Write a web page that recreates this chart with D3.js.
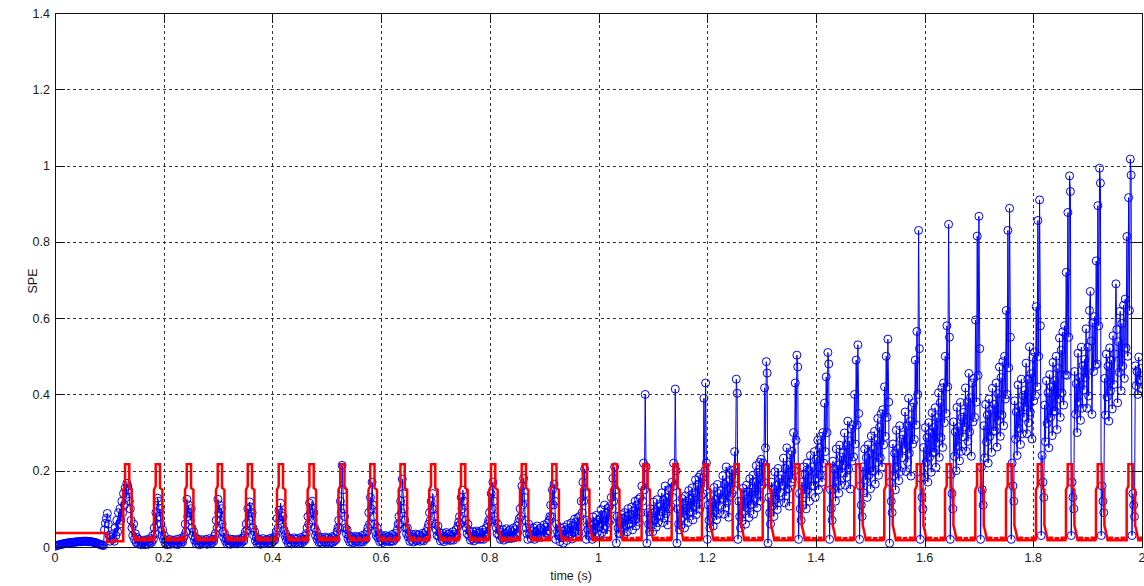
<!DOCTYPE html>
<html>
<head>
<meta charset="utf-8">
<script src="https://cdn.jsdelivr.net/npm/d3@7"></script>
<style>
	body { margin: 0; background: #fff; }
	text { font-family: "Liberation Sans", Arial, sans-serif; fill: #1a1a1a; }
</style>
</head>
<body>
<script>
const width = 1144
const height = 586

// axis ticks
const xTicks = [0, 0.2, 0.4, 0.6, 0.8, 1, 1.2, 1.4, 1.6, 1.8, 2]
const xTickLabels = ['0', '0.2', '0.4', '0.6', '0.8', '1', '1.2', '1.4', '1.6', '1.8', '2']
const yTicks = [0, 0.2, 0.4, 0.6, 0.8, 1, 1.2, 1.4]
const yTickLabels = ['0', '0.2', '0.4', '0.6', '0.8', '1', '1.2', '1.4']

// centre time (s) of every red threshold pulse
const pulseTimes = [0.133, 0.1895, 0.2466, 0.3036, 0.3588, 0.4158, 0.4723, 0.529, 0.5842, 0.6398,
	0.696, 0.7512, 0.8064, 0.8629, 0.919, 0.9752, 1.0304, 1.0867, 1.142, 1.1978,
	1.2543, 1.3095, 1.3658, 1.4228, 1.478, 1.5332, 1.5897, 1.6449, 1.7007, 1.7571,
	1.8123, 1.8675, 1.9227, 1.9792]

// red threshold: start level, one pulse (ms from centre) and the ripple between pulses
const redStartT = [0, 0.096, 0.096, 0.106, 0.106, 0.113, 0.113, 0.1256]
const redStartV = [0.037, 0.037, 0.014, 0.014, 0.018, 0.018, 0.015, 0.015]
const pulseMs = [-7.4, -7.4, -4.2, -4.2, 3.7, 3.7, 8.1, 8.1, 11, 14]
const pulseV = [0.018, 0.15, 0.16, 0.217, 0.217, 0.155, 0.15, 0.057, 0.04, 0.018]
const rippleMs = [18, 18, 22, 22, 29, 29, 33, 33, 40, 40, 44, 44, 48.5]
const rippleV = [0.018, 0.024, 0.024, 0.018, 0.018, 0.023, 0.023, 0.018, 0.018, 0.024, 0.024, 0.018, 0.018]

// SPE samples before the first pulse, 1.75 ms apart from t = 0
const blueStart = [0.002, 0.003, 0.004, 0.005, 0.005, 0.006, 0.007, 0.007, 0.008, 0.008,
	0.009, 0.009, 0.010, 0.010, 0.011, 0.011, 0.011, 0.012, 0.012, 0.012,
	0.013, 0.013, 0.013, 0.013, 0.014, 0.014, 0.014, 0.014, 0.014, 0.015,
	0.015, 0.015, 0.015, 0.015, 0.015, 0.014, 0.014, 0.014, 0.014, 0.013,
	0.013, 0.012, 0.012, 0.011, 0.010, 0.009, 0.008, 0.007, 0.006, 0.005,
	0.005, 0.004, 0.045, 0.062, 0.075, 0.088, 0.06, 0.03, 0.015, 0.025]

// sample positions (ms from pulse centre) used in every cycle row below
const cycleMs = [-27.1, -25.55, -24, -22.45, -20.9, -19.35, -17.8, -16.25, -14.7, -13.15, -11.6, -10.05, -8.5,
	-6.95, -5.4, -3.85, -2.3, -0.75, 0.8, 2.35, 3.9, 5.45, 7,
	8.55, 10.1, 11.65, 13.2, 14.75, 16.3, 17.85, 19.4, 20.95, 22.5, 24.05, 25.6, 27.15]

// SPE samples, one row per pulse (13 before, 10 around, 13 after the pulse)
const blueCycles = [
	[0.02, 0.035, 0.015, 0.05, 0.03, 0.07, 0.04, 0.09, 0.06, 0.10, 0.07, 0.12, 0.09,
		0.14, 0.11, 0.155, 0.13, 0.167, 0.16, 0.15, 0.12, 0.10, 0.07,
		0.05, 0.03, 0.06, 0.02, 0.035, 0.012, 0.025, 0.008, 0.02, 0.01, 0.015, 0.006, 0.012],
	[0.01, 0.018, 0.006, 0.014, 0.009, 0.02, 0.007, 0.015, 0.01, 0.022, 0.012, 0.03, 0.02,
		0.05, 0.035, 0.09, 0.06, 0.128, 0.12, 0.08, 0.10, 0.06, 0.03,
		0.045, 0.02, 0.03, 0.01, 0.018, 0.006, 0.014, 0.009, 0.02, 0.007, 0.015, 0.01, 0.018],
	[0.008, 0.016, 0.01, 0.02, 0.006, 0.015, 0.012, 0.022, 0.009, 0.018, 0.014, 0.025, 0.03,
		0.06, 0.04, 0.125, 0.08, 0.11, 0.09, 0.07, 0.10, 0.05, 0.03,
		0.04, 0.018, 0.025, 0.008, 0.016, 0.01, 0.02, 0.006, 0.014, 0.011, 0.019, 0.008, 0.015],
	[0.01, 0.02, 0.007, 0.016, 0.012, 0.022, 0.008, 0.017, 0.011, 0.02, 0.015, 0.028, 0.035,
		0.07, 0.05, 0.125, 0.09, 0.11, 0.07, 0.10, 0.06, 0.04, 0.025,
		0.035, 0.015, 0.022, 0.008, 0.017, 0.01, 0.021, 0.007, 0.015, 0.012, 0.02, 0.009, 0.016],
	[0.011, 0.019, 0.008, 0.015, 0.012, 0.021, 0.009, 0.018, 0.013, 0.024, 0.016, 0.03, 0.04,
		0.06, 0.045, 0.10, 0.07, 0.118, 0.105, 0.08, 0.09, 0.05, 0.03,
		0.04, 0.016, 0.025, 0.009, 0.018, 0.011, 0.02, 0.007, 0.016, 0.012, 0.022, 0.009, 0.017],
	[0.012, 0.02, 0.009, 0.017, 0.011, 0.023, 0.01, 0.019, 0.014, 0.025, 0.018, 0.03, 0.04,
		0.075, 0.05, 0.096, 0.07, 0.115, 0.09, 0.06, 0.08, 0.045, 0.03,
		0.035, 0.018, 0.026, 0.01, 0.02, 0.012, 0.022, 0.008, 0.018, 0.013, 0.024, 0.01, 0.02],
	[0.013, 0.022, 0.01, 0.018, 0.012, 0.025, 0.011, 0.02, 0.015, 0.028, 0.02, 0.035, 0.05,
		0.08, 0.06, 0.115, 0.09, 0.10, 0.12, 0.07, 0.09, 0.05, 0.03,
		0.04, 0.02, 0.028, 0.012, 0.022, 0.013, 0.025, 0.01, 0.02, 0.014, 0.026, 0.012, 0.022],
	[0.014, 0.024, 0.011, 0.02, 0.013, 0.027, 0.012, 0.022, 0.016, 0.03, 0.02, 0.04, 0.05,
		0.07, 0.05, 0.12, 0.09, 0.214, 0.15, 0.10, 0.08, 0.05, 0.035,
		0.045, 0.022, 0.03, 0.013, 0.024, 0.015, 0.027, 0.011, 0.022, 0.016, 0.028, 0.013, 0.024],
	[0.016, 0.026, 0.012, 0.022, 0.015, 0.03, 0.013, 0.024, 0.018, 0.033, 0.022, 0.04, 0.05,
		0.09, 0.06, 0.13, 0.10, 0.17, 0.11, 0.08, 0.06, 0.04, 0.03,
		0.05, 0.024, 0.032, 0.014, 0.026, 0.016, 0.03, 0.012, 0.024, 0.018, 0.03, 0.015, 0.026],
	[0.018, 0.028, 0.014, 0.024, 0.016, 0.033, 0.015, 0.027, 0.02, 0.036, 0.025, 0.045, 0.06,
		0.08, 0.06, 0.12, 0.09, 0.178, 0.14, 0.10, 0.07, 0.05, 0.035,
		0.05, 0.026, 0.035, 0.015, 0.028, 0.018, 0.033, 0.013, 0.026, 0.02, 0.034, 0.016, 0.03],
	[0.02, 0.032, 0.015, 0.027, 0.018, 0.036, 0.016, 0.03, 0.022, 0.04, 0.028, 0.05, 0.06,
		0.09, 0.07, 0.12, 0.10, 0.14, 0.10, 0.08, 0.06, 0.045, 0.03,
		0.055, 0.028, 0.038, 0.016, 0.03, 0.02, 0.036, 0.014, 0.028, 0.022, 0.038, 0.018, 0.033],
	[0.022, 0.035, 0.017, 0.03, 0.02, 0.04, 0.018, 0.033, 0.025, 0.045, 0.03, 0.055, 0.065,
		0.08, 0.06, 0.13, 0.10, 0.149, 0.12, 0.09, 0.07, 0.05, 0.035,
		0.06, 0.03, 0.042, 0.018, 0.034, 0.022, 0.04, 0.016, 0.032, 0.024, 0.042, 0.02, 0.036],
	[0.025, 0.04, 0.02, 0.035, 0.022, 0.045, 0.02, 0.038, 0.028, 0.05, 0.034, 0.06, 0.07,
		0.09, 0.07, 0.14, 0.10, 0.17, 0.12, 0.08, 0.07, 0.05, 0.035,
		0.06, 0.032, 0.046, 0.02, 0.038, 0.024, 0.045, 0.018, 0.036, 0.026, 0.048, 0.022, 0.04],
	[0.028, 0.045, 0.022, 0.04, 0.025, 0.05, 0.024, 0.045, 0.032, 0.055, 0.038, 0.065, 0.075,
		0.10, 0.08, 0.16, 0.11, 0.18, 0.13, 0.07, 0.05, 0.035, 0.02,
		0.06, 0.035, 0.05, 0.022, 0.042, 0.028, 0.05, 0.02, 0.04, 0.03, 0.055, 0.025, 0.045],
	[0.032, 0.05, 0.025, 0.045, 0.03, 0.058, 0.028, 0.052, 0.036, 0.062, 0.042, 0.07, 0.08,
		0.11, 0.08, 0.15, 0.11, 0.165, 0.12, 0.02, 0.06, 0.04, 0.03,
		0.035, 0.014, 0.049, 0.024, 0.042, 0.01, 0.052, 0.028, 0.045, 0.017, 0.059, 0.031, 0.049],
	[0.031, 0.063, 0.021, 0.056, 0.038, 0.073, 0.028, 0.066, 0.042, 0.077, 0.035, 0.08, 0.052,
		0.12, 0.09, 0.17, 0.12, 0.205, 0.14, 0.02, 0.07, 0.045, 0.03,
		0.065, 0.034, 0.056, 0.02, 0.079, 0.043, 0.061, 0.029, 0.083, 0.038, 0.07, 0.052, 0.074],
	[0.061, 0.097, 0.038, 0.083, 0.047, 0.11, 0.056, 0.088, 0.034, 0.101, 0.065, 0.106, 0.07,
		0.13, 0.10, 0.18, 0.12, 0.21, 0.15, 0.01, 0.08, 0.05, 0.035,
		0.065, 0.035, 0.085, 0.05, 0.075, 0.03, 0.09, 0.055, 0.08, 0.04, 0.10, 0.06, 0.085],
	[0.06, 0.105, 0.045, 0.095, 0.07, 0.12, 0.055, 0.11, 0.075, 0.125, 0.065, 0.13, 0.09,
		0.16, 0.12, 0.22, 0.15, 0.40, 0.21, 0.01, 0.09, 0.06, 0.04,
		0.10, 0.058, 0.088, 0.04, 0.118, 0.07, 0.094, 0.052, 0.124, 0.064, 0.106, 0.082, 0.112],
	[0.094, 0.142, 0.064, 0.124, 0.076, 0.16, 0.088, 0.13, 0.058, 0.148, 0.10, 0.154, 0.106,
		0.17, 0.13, 0.22, 0.16, 0.414, 0.20, 0.01, 0.10, 0.06, 0.045,
		0.099, 0.057, 0.127, 0.078, 0.113, 0.05, 0.134, 0.085, 0.12, 0.064, 0.148, 0.092, 0.127],
	[0.092, 0.155, 0.071, 0.141, 0.106, 0.176, 0.085, 0.162, 0.113, 0.183, 0.099, 0.19, 0.134,
		0.18, 0.14, 0.39, 0.20, 0.43, 0.22, 0.02, 0.11, 0.07, 0.05,
		0.133, 0.078, 0.117, 0.055, 0.156, 0.094, 0.125, 0.071, 0.164, 0.086, 0.14, 0.109, 0.148],
	[0.125, 0.187, 0.086, 0.164, 0.102, 0.21, 0.117, 0.171, 0.078, 0.195, 0.133, 0.202, 0.14,
		0.20, 0.15, 0.25, 0.18, 0.44, 0.403, 0.02, 0.12, 0.08, 0.05,
		0.12, 0.069, 0.154, 0.094, 0.137, 0.06, 0.162, 0.103, 0.145, 0.077, 0.179, 0.111, 0.154],
	[0.111, 0.188, 0.086, 0.171, 0.128, 0.213, 0.103, 0.196, 0.137, 0.222, 0.12, 0.23, 0.162,
		0.22, 0.17, 0.417, 0.26, 0.486, 0.456, 0.01, 0.13, 0.09, 0.06,
		0.17, 0.107, 0.152, 0.08, 0.197, 0.125, 0.161, 0.098, 0.206, 0.116, 0.179, 0.143, 0.188],
	[0.161, 0.233, 0.116, 0.206, 0.134, 0.26, 0.152, 0.215, 0.107, 0.242, 0.17, 0.251, 0.179,
		0.30, 0.20, 0.43, 0.28, 0.503, 0.472, 0.02, 0.14, 0.10, 0.07,
		0.17, 0.11, 0.21, 0.14, 0.19, 0.10, 0.22, 0.15, 0.20, 0.12, 0.24, 0.16, 0.21],
	[0.16, 0.25, 0.13, 0.23, 0.18, 0.28, 0.15, 0.26, 0.19, 0.29, 0.17, 0.30, 0.22,
		0.377, 0.25, 0.446, 0.30, 0.51, 0.48, 0.02, 0.15, 0.10, 0.07,
		0.225, 0.152, 0.204, 0.12, 0.257, 0.173, 0.215, 0.141, 0.267, 0.162, 0.236, 0.194, 0.246],
	[0.215, 0.299, 0.162, 0.267, 0.183, 0.33, 0.204, 0.278, 0.152, 0.309, 0.225, 0.32, 0.236,
		0.40, 0.27, 0.49, 0.32, 0.53, 0.35, 0.02, 0.16, 0.11, 0.08,
		0.21, 0.142, 0.257, 0.176, 0.234, 0.13, 0.268, 0.188, 0.245, 0.153, 0.291, 0.199, 0.257],
	[0.199, 0.303, 0.165, 0.28, 0.222, 0.337, 0.188, 0.314, 0.234, 0.349, 0.21, 0.36, 0.268,
		0.42, 0.29, 0.50, 0.34, 0.545, 0.38, 0.01, 0.17, 0.12, 0.09,
		0.27, 0.186, 0.246, 0.15, 0.306, 0.21, 0.258, 0.174, 0.318, 0.198, 0.282, 0.234, 0.294],
	[0.258, 0.354, 0.198, 0.318, 0.222, 0.39, 0.246, 0.33, 0.186, 0.366, 0.27, 0.378, 0.282,
		0.49, 0.32, 0.565, 0.40, 0.83, 0.52, 0.02, 0.18, 0.13, 0.10,
		0.261, 0.183, 0.313, 0.222, 0.287, 0.17, 0.326, 0.235, 0.30, 0.196, 0.352, 0.248, 0.313],
	[0.248, 0.365, 0.209, 0.339, 0.274, 0.404, 0.235, 0.378, 0.287, 0.417, 0.261, 0.43, 0.326,
		0.50, 0.35, 0.58, 0.42, 0.846, 0.55, 0.02, 0.19, 0.14, 0.10,
		0.328, 0.238, 0.302, 0.20, 0.366, 0.264, 0.315, 0.226, 0.379, 0.251, 0.34, 0.289, 0.353],
	[0.315, 0.417, 0.251, 0.379, 0.277, 0.455, 0.302, 0.391, 0.238, 0.43, 0.328, 0.442, 0.34,
		0.595, 0.38, 0.815, 0.45, 0.867, 0.52, 0.02, 0.21, 0.15, 0.11,
		0.318, 0.234, 0.374, 0.276, 0.346, 0.22, 0.388, 0.29, 0.36, 0.248, 0.416, 0.304, 0.374],
	[0.304, 0.43, 0.262, 0.402, 0.332, 0.472, 0.29, 0.444, 0.346, 0.486, 0.318, 0.50, 0.388,
		0.62, 0.40, 0.83, 0.47, 0.888, 0.55, 0.02, 0.22, 0.16, 0.12,
		0.383, 0.283, 0.354, 0.24, 0.425, 0.311, 0.368, 0.269, 0.44, 0.297, 0.397, 0.34, 0.411],
	[0.368, 0.482, 0.297, 0.44, 0.326, 0.525, 0.354, 0.454, 0.283, 0.497, 0.383, 0.511, 0.397,
		0.63, 0.42, 0.856, 0.50, 0.91, 0.58, 0.03, 0.24, 0.17, 0.13,
		0.372, 0.276, 0.436, 0.324, 0.404, 0.26, 0.452, 0.34, 0.42, 0.292, 0.484, 0.356, 0.436],
	[0.356, 0.50, 0.308, 0.468, 0.388, 0.548, 0.34, 0.516, 0.404, 0.564, 0.372, 0.58, 0.452,
		0.72, 0.45, 0.877, 0.55, 0.973, 0.932, 0.03, 0.17, 0.13, 0.10,
		0.46, 0.348, 0.428, 0.30, 0.508, 0.38, 0.444, 0.332, 0.524, 0.364, 0.476, 0.412, 0.492],
	[0.444, 0.572, 0.364, 0.524, 0.396, 0.62, 0.67, 0.54, 0.348, 0.588, 0.46, 0.604, 0.476,
		0.75, 0.48, 0.895, 0.58, 0.993, 0.954, 0.03, 0.16, 0.12, 0.09,
		0.442, 0.346, 0.506, 0.394, 0.474, 0.33, 0.522, 0.41, 0.49, 0.362, 0.554, 0.426, 0.506],
	[0.69, 0.57, 0.378, 0.538, 0.458, 0.618, 0.41, 0.586, 0.474, 0.634, 0.442, 0.65, 0.522,
		0.814, 0.50, 0.916, 0.62, 1.017, 0.975, 0.03, 0.14, 0.11, 0.08,
		0.475, 0.423, 0.46, 0.40, 0.498, 0.438, 0.468, 0.415, 0.505, 0.43, 0.483, 0.453, 0.49]
]

const plot = { left: 55, right: 1142, top: 13, bottom: 547 }

const x = d3.scaleLinear().domain([0, 2]).range([plot.left, plot.right])
const y = d3.scaleLinear().domain([0, 1.4]).range([plot.bottom, plot.top])

// build the two series from the arrays above
const blue = blueStart.map((v, i) => [i * 0.00175, v])
blueCycles.forEach((row, k) => {
	row.forEach((v, i) => blue.push([pulseTimes[k] + cycleMs[i] / 1000, v]))
})
const blueShown = blue.filter(d => d[0] <= 2)

const red = redStartT.map((t, i) => [t, redStartV[i]])
pulseTimes.forEach(c => {
	pulseMs.forEach((ms, i) => red.push([c + ms / 1000, pulseV[i]]))
	rippleMs.forEach((ms, i) => red.push([c + ms / 1000, rippleV[i]]))
})

const svg = d3.select('body')
	.append('svg')
	.attr('width', width)
	.attr('height', height)

svg.append('defs')
	.append('clipPath')
	.attr('id', 'plotclip')
	.append('rect')
	.attr('x', plot.left)
	.attr('y', plot.top - 4)
	.attr('width', plot.right - plot.left)
	.attr('height', plot.bottom - plot.top + 8)

const crisp = v => Math.round(v) + 0.5

// dotted grid under the data
const grid = svg.append('g')
	.attr('stroke', '#333')
	.attr('stroke-width', 1)
	.attr('stroke-dasharray', '3,3')

grid.selectAll('.vgrid')
	.data(xTicks.slice(1, -1))
	.enter().append('line')
	.attr('x1', d => crisp(x(d)))
	.attr('x2', d => crisp(x(d)))
	.attr('y1', plot.top)
	.attr('y2', plot.bottom)

grid.selectAll('.hgrid')
	.data(yTicks.slice(1, -1))
	.enter().append('line')
	.attr('x1', plot.left)
	.attr('x2', plot.right)
	.attr('y1', d => crisp(y(d)))
	.attr('y2', d => crisp(y(d)))

const line = d3.line()
	.x(d => x(d[0]))
	.y(d => y(d[1]))

const data = svg.append('g').attr('clip-path', 'url(#plotclip)')

// SPE: blue line with open circle markers
data.append('path')
	.datum(blueShown)
	.attr('fill', 'none')
	.attr('stroke', '#0000ff')
	.attr('stroke-width', 1)
	.attr('d', line)

data.selectAll('.mark')
	.data(blueShown)
	.enter().append('circle')
	.attr('cx', d => x(d[0]))
	.attr('cy', d => y(d[1]))
	.attr('r', 4)
	.attr('fill', 'none')
	.attr('stroke', '#0000ff')
	.attr('stroke-width', 1)

// threshold in red, on top
data.append('path')
	.datum(red.filter(d => d[0] <= 2.01))
	.attr('fill', 'none')
	.attr('stroke', '#ff0000')
	.attr('stroke-width', 2.5)
	.attr('stroke-linejoin', 'miter')
	.attr('d', line)

// box and inward ticks
const axes = svg.append('g')
	.attr('stroke', '#111')
	.attr('stroke-width', 1)
	.attr('fill', 'none')

axes.append('rect')
	.attr('x', crisp(plot.left))
	.attr('y', crisp(plot.top))
	.attr('width', Math.round(plot.right) - Math.round(plot.left))
	.attr('height', Math.round(plot.bottom) - Math.round(plot.top))

const tickLen = 10
xTicks.forEach(d => {
	axes.append('line').attr('x1', crisp(x(d))).attr('x2', crisp(x(d)))
		.attr('y1', plot.bottom).attr('y2', plot.bottom - tickLen)
	axes.append('line').attr('x1', crisp(x(d))).attr('x2', crisp(x(d)))
		.attr('y1', plot.top).attr('y2', plot.top + tickLen)
})
yTicks.forEach(d => {
	axes.append('line').attr('y1', crisp(y(d))).attr('y2', crisp(y(d)))
		.attr('x1', plot.left).attr('x2', plot.left + tickLen)
	axes.append('line').attr('y1', crisp(y(d))).attr('y2', crisp(y(d)))
		.attr('x1', plot.right).attr('x2', plot.right - tickLen)
})

// tick labels
svg.selectAll('.xlab')
	.data(xTicks)
	.enter().append('text')
	.attr('x', d => x(d))
	.attr('y', 562)
	.attr('text-anchor', 'middle')
	.style('font-size', '12.5px')
	.text((d, i) => xTickLabels[i])

svg.selectAll('.ylab')
	.data(yTicks)
	.enter().append('text')
	.attr('x', 50)
	.attr('y', d => y(d) + 4.5)
	.attr('text-anchor', 'end')
	.style('font-size', '12.5px')
	.text((d, i) => yTickLabels[i])

// axis titles
svg.append('text')
	.attr('x', 571)
	.attr('y', 580)
	.attr('text-anchor', 'middle')
	.style('font-size', '12.5px')
	.text('time (s)')

svg.append('text')
	.attr('transform', 'translate(37,281) rotate(-90)')
	.attr('text-anchor', 'middle')
	.style('font-size', '12.5px')
	.text('SPE')
</script>
</body>
</html>
